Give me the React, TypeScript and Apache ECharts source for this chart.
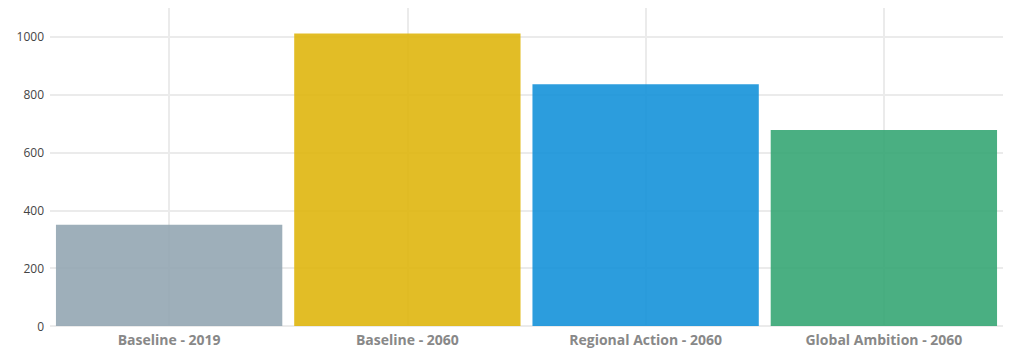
import React, { useEffect, useRef } from "react";
import * as echarts from "echarts";

const categories = ["Baseline - 2019", "Baseline - 2060", "Regional Action - 2060", "Global Ambition - 2060"];
const values = [350, 1012, 836, 678];
const barColors = ["#93a6b3", "#dfb60e", "#1592d9", "#36a674"];

export default function App() {
  const ref = useRef<HTMLDivElement>(null);
  useEffect(() => {
    document.body.style.margin = "0";
    const chart = echarts.init(ref.current!, null, { renderer: "svg" });
    const grid = "#ebebeb";
    chart.setOption({
      animation: false,
      grid: { left: 50, right: 10, top: 8, bottom: 30 },
      xAxis: {
        type: "category",
        data: categories,
        axisLine: { show: false },
        axisTick: { show: false, alignWithLabel: true },
        splitLine: { show: true, alignWithLabel: true, lineStyle: { color: grid, width: 2 } },
        axisLabel: {
          color: "#888888",
          fontFamily: "Open Sans",
          fontWeight: "bold",
          fontSize: 14,
          margin: 6,
        },
      },
      yAxis: {
        type: "value",
        min: 0,
        max: 1100,
        interval: 200,
        axisLine: { show: false },
        axisTick: { show: false },
        splitLine: {
          lineStyle: {
            color: [grid, grid, grid, grid, grid, grid, "rgba(0,0,0,0)"],
            width: 2,
          },
        },
        axisLabel: {
          color: "#444",
          fontFamily: "Open Sans",
          fontSize: 12,
          margin: 6,
          formatter: (v: number) => (v > 1000 ? "" : String(v)),
        },
      },
      series: [
        {
          type: "bar",
          data: values.map((v, i) => ({ value: v, itemStyle: { color: barColors[i], opacity: 0.9 } })),
          barCategoryGap: "5%",
        },
      ],
    });
    return () => chart.dispose();
  }, []);
  return <div ref={ref} style={{ width: 1013, height: 356 }} />;
}
